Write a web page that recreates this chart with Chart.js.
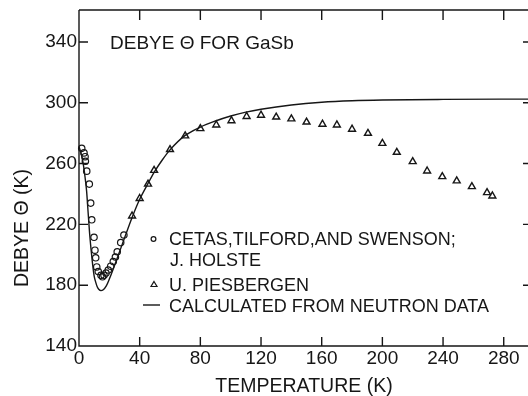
<!DOCTYPE html>
<html>
<head>
<meta charset="utf-8">
<script src="https://cdn.jsdelivr.net/npm/chart.js@4.4.0/dist/chart.umd.min.js"></script>
<style>
  html, body { margin: 0; padding: 0; background: #fff; overflow: hidden; }
</style>
</head>
<body>
<canvas id="chart" width="528" height="396"></canvas>
<script>
// Cetas, Tilford and Swenson; J. Holste (open circles)
var cetasT = [1.8, 3.3, 4.0, 4.2, 5.1, 6.8, 7.7, 8.4, 9.9, 10.5, 11.0, 11.7, 12.7, 14.5, 15.5, 16.5, 17.8, 19.3, 20.9, 22.6, 24.0, 25.2, 27.5, 29.6];
var cetasTheta = [270, 267, 264.5, 261.5, 255, 246.5, 234, 223, 211.5, 203, 198, 192, 189, 186.5, 185.5, 186.5, 188, 190, 192.5, 195.5, 198.5, 202, 208, 213];

// U. Piesbergen (triangles)
var piesT = [35, 40, 45.5, 49.5, 60, 70, 80, 90.5, 100.5, 110.5, 120, 130, 140, 150, 160.5, 170, 180, 190.5, 200, 209.5, 220, 229.5, 239.5, 249, 259, 269, 272.5];
var piesTheta = [225.5, 237, 246.5, 255.5, 269.2, 278.2, 283, 285.4, 288.2, 291, 291.8, 290.6, 289.4, 287.3, 285.9, 285.4, 282.6, 279.9, 273.3, 267.4, 261.3, 255.1, 251.4, 248.6, 244.8, 240.9, 238.7];

// calculated from neutron data (solid line)
var calcT = [0, 1, 2, 3, 4, 5, 6, 7, 8, 9, 10, 11, 12, 13, 14.5, 16, 18, 20, 22.5, 26, 30, 35, 40, 45, 50, 55, 60, 70, 80, 90, 100, 110, 120, 140, 160, 180, 200, 240, 296];
var calcTheta = [271, 268, 264, 258.5, 251, 242, 228, 214, 203, 193.5, 186, 182, 179, 177.3, 176.4, 177, 179.5, 184, 190.5, 200, 211, 224.5, 236.5, 246, 255, 262.5, 269, 278.5, 284, 288, 291.3, 293.8, 295.7, 298.5, 300.3, 301.3, 301.8, 302.2, 302.4];

var xTicks = [0, 40, 80, 120, 160, 200, 240, 280];
var yTicks = [140, 180, 220, 260, 300, 340];

var ink = "#161616";
var font = '"Liberation Sans", Arial, sans-serif';

function toPoints(xs, ys) {
  return xs.map(function (x, i) { return { x: x, y: ys[i] }; });
}

// frame with inward ticks, top/right border, titles and the legend box
var framePlugin = {
  id: "frame",
  afterDraw: function (chart) {
    var ctx = chart.ctx, a = chart.chartArea;
    var xs = chart.scales.x, ys = chart.scales.y;
    ctx.save();
    ctx.strokeStyle = ink;
    ctx.lineWidth = 1.4;
    ctx.beginPath();
    ctx.moveTo(a.left, a.top);
    ctx.lineTo(a.right, a.top);
    ctx.moveTo(a.left, a.top);
    ctx.lineTo(a.left, a.bottom);
    ctx.lineTo(a.right, a.bottom);
    xTicks.forEach(function (v) {
      if (v === 0) return;
      var px = xs.getPixelForValue(v);
      ctx.moveTo(px, a.bottom);
      ctx.lineTo(px, a.bottom - 9);
      ctx.moveTo(px, a.top);
      ctx.lineTo(px, a.top + 10);
    });
    yTicks.forEach(function (v) {
      if (v === 140) return;
      var py = ys.getPixelForValue(v);
      ctx.moveTo(a.left, py);
      ctx.lineTo(a.left + 9, py);
      ctx.moveTo(a.right, py);
      ctx.lineTo(a.right - 5, py);
    });
    ctx.stroke();

    ctx.fillStyle = ink;
    ctx.textBaseline = "alphabetic";
    ctx.textAlign = "left";
    ctx.font = "19px " + font;
    ctx.fillText("DEBYE \u0398 FOR GaSb", 110, 49);

    // legend
    ctx.font = "18px " + font;
    ctx.fillText("CETAS,TILFORD,AND SWENSON;", 169, 245);
    ctx.fillText("J. HOLSTE", 170, 266);
    ctx.fillText("U. PIESBERGEN", 169, 291);
    ctx.fillText("CALCULATED FROM NEUTRON DATA", 169, 312);

    ctx.lineWidth = 1.2;
    ctx.beginPath();
    ctx.arc(153.5, 239, 2.4, 0, Math.PI * 2);
    ctx.stroke();
    ctx.beginPath();
    ctx.moveTo(154, 281.5);
    ctx.lineTo(157, 286.5);
    ctx.lineTo(151, 286.5);
    ctx.closePath();
    ctx.stroke();
    ctx.lineWidth = 1.4;
    ctx.beginPath();
    ctx.moveTo(143, 305);
    ctx.lineTo(160, 305);
    ctx.stroke();

    // axis titles
    ctx.font = "19.5px " + font;
    ctx.textAlign = "center";
    ctx.fillText("TEMPERATURE (K)", 304, 392);
    ctx.translate(28, 228);
    ctx.rotate(-Math.PI / 2);
    ctx.fillText("DEBYE \u0398 (K)", 0, 0);
    ctx.restore();
  }
};

var chart = new Chart(document.getElementById("chart").getContext("2d"), {
  type: "scatter",
  data: {
    datasets: [
      {
        label: "CALCULATED FROM NEUTRON DATA",
        data: toPoints(calcT, calcTheta),
        showLine: true,
        borderColor: ink,
        borderWidth: 1.4,
        pointRadius: 0,
        cubicInterpolationMode: "monotone",
        fill: false,
      },
      {
        label: "CETAS, TILFORD, AND SWENSON; J. HOLSTE",
        data: toPoints(cetasT, cetasTheta),
        pointStyle: "circle",
        pointRadius: 3.2,
        borderWidth: 1.2,
        borderColor: ink,
        backgroundColor: "rgba(255,255,255,0)",
        clip: false,
      },
      {
        label: "U. PIESBERGEN",
        data: toPoints(piesT, piesTheta),
        pointStyle: "triangle",
        pointRadius: 4,
        borderWidth: 1.4,
        borderColor: ink,
        backgroundColor: "rgba(255,255,255,0)",
        clip: false,
      },
    ],
  },
  options: {
    responsive: false,
    animation: false,
    layout: { autoPadding: false, padding: { left: 0, top: 10, right: 0, bottom: 0 } },
    plugins: {
      legend: { display: false },
      tooltip: { enabled: false },
    },
    scales: {
      x: {
        type: "linear",
        min: 0,
        max: 296,
        grid: { display: false, drawTicks: false },
        border: { display: false },
        afterBuildTicks: function (s) {
          s.ticks = xTicks.map(function (v) { return { value: v }; });
        },
        afterFit: function (s) {
          s.height = 50;
          s.paddingLeft = 0;
          s.paddingRight = 0;
        },
        ticks: { color: ink, padding: 1, maxRotation: 0, font: { family: font, size: 19 } },
      },
      y: {
        type: "linear",
        min: 140,
        max: 361,
        grid: { display: false, drawTicks: false },
        border: { display: false },
        afterBuildTicks: function (s) {
          s.ticks = yTicks.map(function (v) { return { value: v }; });
        },
        afterFit: function (s) {
          s.width = 79;
          s.paddingTop = 0;
          s.paddingBottom = 0;
        },
        ticks: { color: ink, padding: 2, font: { family: font, size: 19 } },
      },
    },
  },
  plugins: [framePlugin],
});
</script>
</body>
</html>
